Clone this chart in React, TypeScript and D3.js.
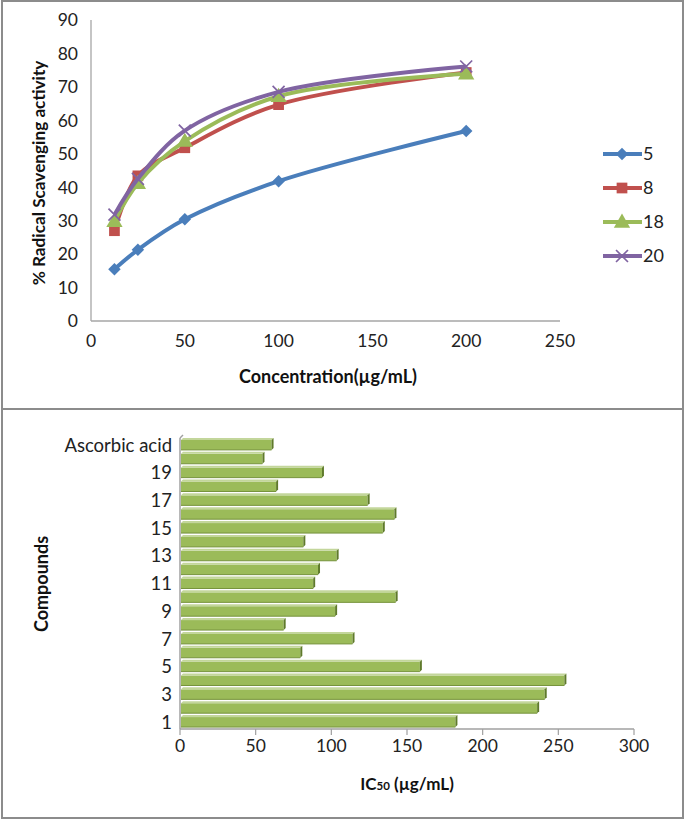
import React from "react";
import * as d3 from "d3";

const concentrations = [12.5, 25, 50, 100, 200];
const seriesNames = ["5", "8", "18", "20"];
const series5 = [15.5, 21.3, 30.4, 41.8, 56.8];
const series8 = [27, 43.4, 51.8, 64.7, 74.3];
const series18 = [29.8, 41.2, 53.8, 67.2, 73.9];
const series20 = [31.8, 42.5, 56.9, 68.5, 76.1];
const seriesColors = ["#4A7EBB", "#C0504D", "#9BBB59", "#8064A2"];
const markerKinds = ["diamond", "square", "triangle", "x"];
const topXTicks = [0, 50, 100, 150, 200, 250];
const topYTicks = [0, 10, 20, 30, 40, 50, 60, 70, 80, 90];

const compounds = ["1", "2", "3", "4", "5", "6", "7", "8", "9", "10", "11", "12", "13", "14", "15", "16", "17", "18", "19", "20", "Ascorbic acid"];
const ic50 = [182, 236, 241, 254, 158.5, 79.5, 114, 68.5, 102.5, 142.5, 88, 91.2, 103.5, 81.5, 134, 141.7, 124, 63.5, 93.8, 54.5, 60.5];
const bottomXTicks = [0, 50, 100, 150, 200, 250, 300];

const FONT = "Lato, 'Open Sans', sans-serif";

function Marker({ kind, x, y, color }: { kind: string; x: number; y: number; color: string }) {
  if (kind === "diamond") {
    const p = d3.symbol().type(d3.symbolSquare).size(78)();
    return <path d={p || ""} transform={`translate(${x},${y}) rotate(45)`} fill={color} />;
  }
  if (kind === "square") {
    const p = d3.symbol().type(d3.symbolSquare).size(115)();
    return <path d={p || ""} transform={`translate(${x},${y})`} fill={color} />;
  }
  if (kind === "triangle") {
    const p = d3.symbol().type(d3.symbolTriangle).size(115)();
    return <path d={p || ""} transform={`translate(${x},${y + 1})`} fill={color} />;
  }
  const p = d3.symbol().type(d3.symbolX).size(95)();
  return <path d={p || ""} transform={`translate(${x},${y})`} fill="none" stroke={color} strokeWidth={1.7} />;
}

export default function App() {
  const allSeries = [series5, series8, series18, series20];
  const xTop = d3.scaleLinear().domain([0, 250]).range([91, 560]);
  const yTop = d3.scaleLinear().domain([0, 90]).range([321, 20]);
  const line = d3
    .line<number>()
    .x((_, i) => xTop(concentrations[i]))
    .y((v) => yTop(v))
    .curve(d3.curveCatmullRom.alpha(0.5));

  const xBot = d3.scaleLinear().domain([0, 300]).range([180, 634]);
  const yBot = d3.scaleBand().domain(compounds).range([729, 438]).paddingInner(0.28).paddingOuter(0.14);
  const legendY = [154, 188, 222, 256];

  return (
    <div style={{ position: "absolute", left: 0, top: 0 }}>
      <svg width={685} height={821} style={{ display: "block", background: "#fff" }} fontFamily={FONT}>
        {/* panel borders */}
        <rect x={2} y={1} width={681} height={408} fill="none" stroke="#8c8c8c" strokeWidth={2} />
        <rect x={2} y={409} width={681} height={409} fill="none" stroke="#8c8c8c" strokeWidth={2} />

        {/* ===== Top chart ===== */}
        <line x1={91} x2={91} y1={20} y2={321} stroke="#a6a6a6" strokeWidth={1.3} />
        <line x1={91} x2={560} y1={321} y2={321} stroke="#a6a6a6" strokeWidth={1.3} />
        {topYTicks.map((t) => (
          <text key={t} x={78} y={yTop(t)} dy="0.36em" textAnchor="end" fontSize={17.5} fill="#222">
            {t}
          </text>
        ))}
        {topXTicks.map((t) => (
          <text key={t} x={xTop(t)} y={347} textAnchor="middle" fontSize={17.5} fill="#222">
            {t}
          </text>
        ))}
        <text x={328} y={383} textAnchor="middle" fontSize={18} fontWeight="bold" fill="#111">
          Concentration(µg/mL)
        </text>
        <text transform="translate(45,173) rotate(-90)" textAnchor="middle" fontSize={17.2} fontWeight="bold" fill="#111">
          % Radical Scavenging activity
        </text>
        {allSeries.map((s, si) => (
          <g key={si}>
            <path d={line(s) || ""} fill="none" stroke={seriesColors[si]} strokeWidth={4} strokeLinejoin="round" />
            {s.map((v, i) => (
              <Marker key={i} kind={markerKinds[si]} x={xTop(concentrations[i])} y={yTop(v)} color={seriesColors[si]} />
            ))}
          </g>
        ))}
        {seriesNames.map((n, i) => (
          <g key={n}>
            <line x1={603} x2={642} y1={legendY[i]} y2={legendY[i]} stroke={seriesColors[i]} strokeWidth={4} />
            <Marker kind={markerKinds[i]} x={622} y={legendY[i]} color={seriesColors[i]} />
            <text x={643} y={legendY[i]} dy="0.36em" fontSize={18} fill="#222">
              {n}
            </text>
          </g>
        ))}

        {/* ===== Bottom chart ===== */}
        {compounds.map((c, i) => {
          const y = yBot(c)!;
          const h = yBot.bandwidth();
          const x0 = xBot(0) + 1;
          const x1 = xBot(ic50[i]);
          return (
            <g key={c}>
              <rect x={x0} y={y} width={x1 - x0} height={h} fill="#9BBB59" />
              <polygon
                points={`${x0},${y} ${x0 + 2},${y - 2} ${x1 + 2},${y - 2} ${x1},${y}`}
                fill="#c3d69b"
              />
              <polygon
                points={`${x1},${y} ${x1 + 2},${y - 2} ${x1 + 2},${y + h - 2} ${x1},${y + h}`}
                fill="#5f7a2b"
              />
              <line x1={x0} x2={x1} y1={y + h} y2={y + h} stroke="#76933c" strokeWidth={1} />
            </g>
          );
        })}
        <line x1={180} x2={180} y1={438} y2={729} stroke="#a0a0a0" strokeWidth={1.5} />
        <line x1={180} x2={183} y1={438} y2={435} stroke="#a0a0a0" strokeWidth={1.5} />
        <line x1={180} x2={634} y1={729} y2={729} stroke="#a0a0a0" strokeWidth={1.5} />
        {bottomXTicks.map((t) => (
          <g key={t}>
            <line x1={xBot(t)} x2={xBot(t)} y1={729} y2={735} stroke="#a0a0a0" strokeWidth={1.2} />
            <text x={xBot(t)} y={752} textAnchor="middle" fontSize={17.5} fill="#222">
              {t}
            </text>
          </g>
        ))}
        {compounds.map((c, i) =>
          i % 2 === 0 ? (
            <text key={c} x={172} y={yBot(c)! + yBot.bandwidth() / 2} dy="0.36em" textAnchor="end" fontSize={18.5} fill="#222">
              {c}
            </text>
          ) : null
        )}
        <text x={407} y={790} textAnchor="middle" fontSize={17} fontWeight="bold" fill="#111">
          IC<tspan fontSize={11.5}>50</tspan> (µg/mL)
        </text>
        <text transform="translate(48,584) rotate(-90)" textAnchor="middle" fontSize={18} fontWeight="bold" fill="#111">
          Compounds
        </text>
      </svg>
    </div>
  );
}
